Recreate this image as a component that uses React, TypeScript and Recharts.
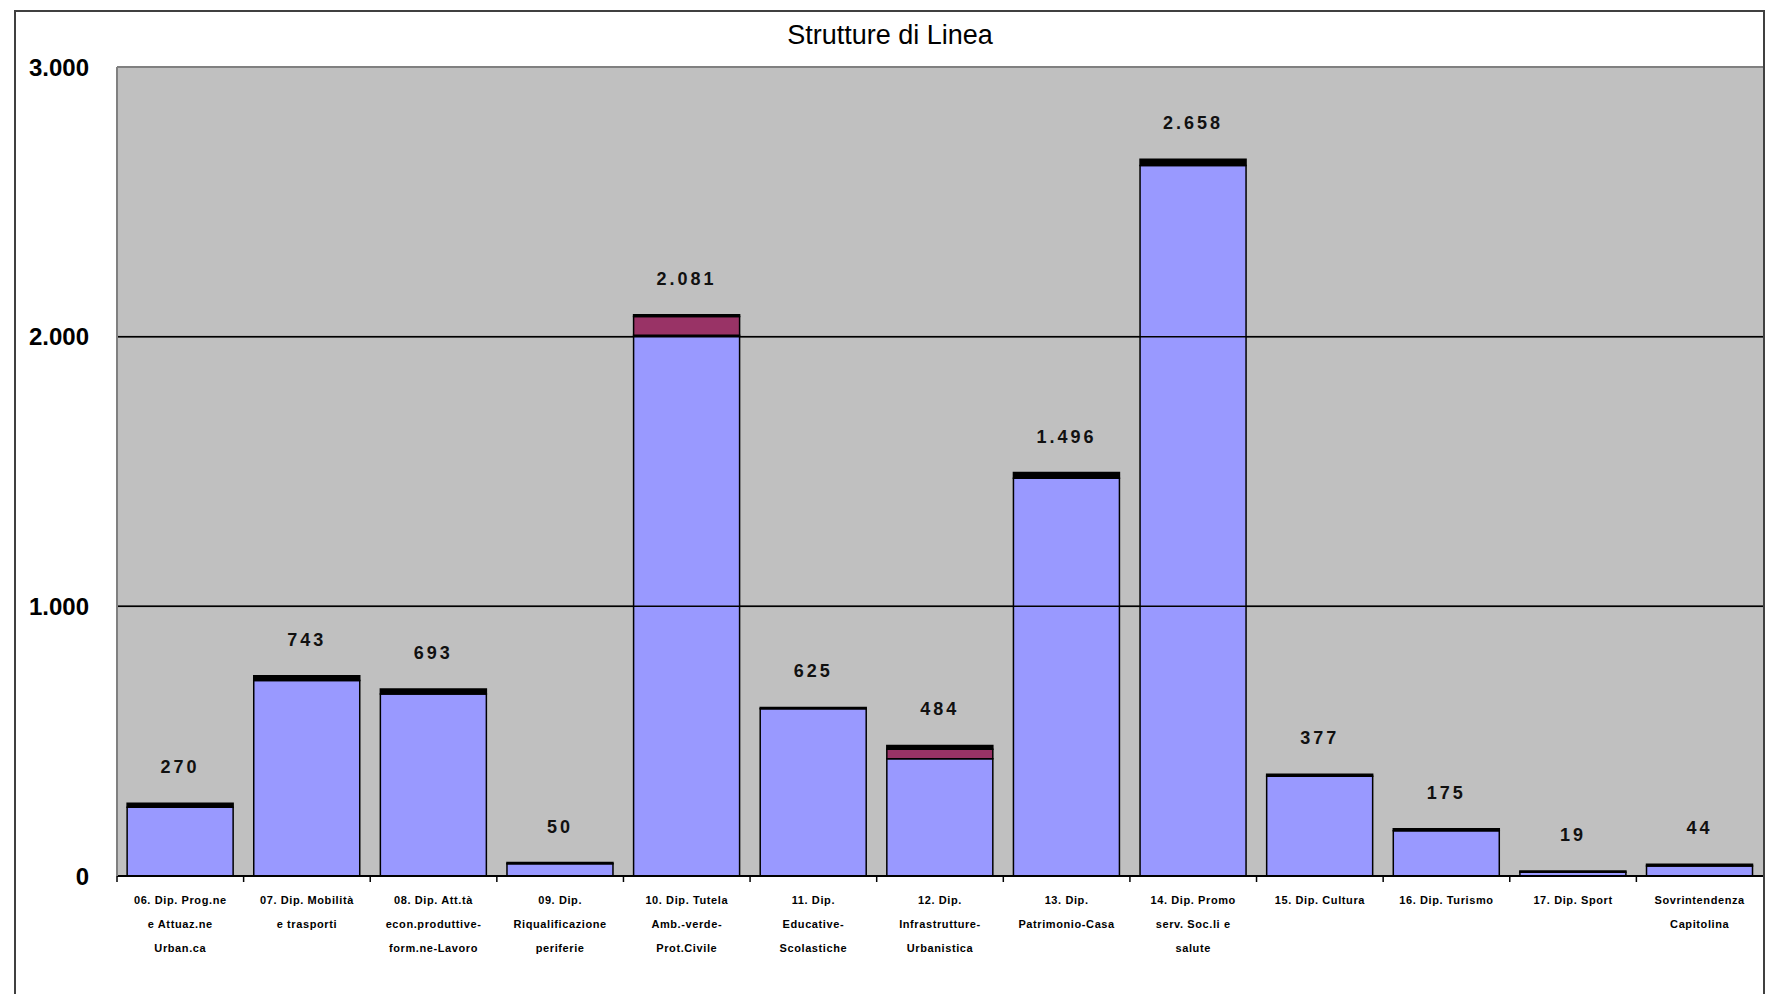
import React from "react";
import {
  BarChart,
  Bar,
  XAxis,
  YAxis,
  CartesianGrid,
  ReferenceLine,
  LabelList,
} from "recharts";

const categories = [
  "06. Dip. Prog.ne|e Attuaz.ne|Urban.ca",
  "07. Dip. Mobilità|e trasporti",
  "08. Dip. Att.tà|econ.produttive-|form.ne-Lavoro",
  "09. Dip.|Riqualificazione|periferie",
  "10. Dip. Tutela|Amb.-verde-|Prot.Civile",
  "11. Dip.|Educative-|Scolastiche",
  "12. Dip.|Infrastrutture-|Urbanistica",
  "13. Dip.|Patrimonio-Casa",
  "14. Dip. Promo|serv. Soc.li e|salute",
  "15. Dip. Cultura",
  "16. Dip. Turismo",
  "17. Dip. Sport",
  "Sovrintendenza|Capitolina",
];

// blue part, maroon part, black top part
const baseValues = [255, 725, 675, 45, 2005, 620, 435, 1475, 2635, 370, 168, 14, 37];
const extraValues = [0, 0, 0, 0, 70, 0, 35, 0, 0, 0, 0, 0, 0];
const topValues = [15, 18, 18, 5, 6, 5, 14, 21, 23, 7, 7, 5, 7];
const totals = [270, 743, 693, 50, 2081, 625, 484, 1496, 2658, 377, 175, 19, 44];

const yTicks = [0, 1000, 2000, 3000];

const data = categories.map((c, i) => ({
  name: c,
  base: baseValues[i],
  extra: extraValues[i],
  top: topValues[i],
  total: totals[i],
}));

const fmt = (v: number) => String(v).replace(/\B(?=(\d{3})+(?!\d))/g, ".");

const BAND = (1763 - 117) / categories.length;

function CategoryTick(props: any) {
  const { x, y, payload } = props;
  const lines = String(payload.value).split("|");
  return (
    <g>
      <line x1={x - BAND / 2} x2={x - BAND / 2} y1={y - 8} y2={y - 2} stroke="#000" strokeWidth={1.5} />
      {lines.map((l, i) => (
        <text
          key={i}
          x={x}
          y={y + 20 + i * 24}
          textAnchor="middle"
          fontSize={11}
          fontWeight="bold"
          letterSpacing={0.6}
          fontFamily="Liberation Sans, Arial, sans-serif"
          fill="#000"
        >
          {l}
        </text>
      ))}
    </g>
  );
}

function TotalLabel(props: any) {
  const { x, y, width, index } = props;
  return (
    <text
      x={x + width / 2}
      y={y - 30}
      textAnchor="middle"
      fontSize={18}
      fontWeight="bold"
      letterSpacing={3}
      fontFamily="Liberation Sans, Arial, sans-serif"
      fill="#111"
    >
      {fmt(totals[index])}
    </text>
  );
}

export default function App() {
  return (
    <div style={{ position: "absolute", left: 0, top: 0, width: 1765, height: 994, background: "#fff", overflow: "hidden" }}>
      <div
        style={{
          position: "absolute",
          left: 14,
          top: 10,
          width: 1747,
          height: 1010,
          border: "2px solid #404040",
        }}
      />
      <div
        style={{
          position: "absolute",
          left: 0,
          width: 1780,
          top: 20,
          textAlign: "center",
          fontFamily: "Liberation Sans, Arial, sans-serif",
          fontSize: 27,
          color: "#000",
        }}
      >
        Strutture di Linea
      </div>
      <div style={{ position: "absolute", left: 0, top: 0 }}>
        <BarChart
          width={1765}
          height={994}
          data={data}
          margin={{ top: 67, right: 2, left: 0, bottom: 0 }}
          barCategoryGap="8%"
        >
          <CartesianGrid vertical={false} stroke="#808080" strokeWidth={2} fill="#c0c0c0" />
          <XAxis
            dataKey="name"
            interval={0}
            height={118}
            axisLine={{ stroke: "#000", strokeWidth: 2 }}
            tickLine={false}
            tick={<CategoryTick />}
          />
          <YAxis
            width={117}
            domain={[0, 3000]}
            ticks={yTicks}
            tickFormatter={fmt}
            axisLine={{ stroke: "#808080", strokeWidth: 2 }}
            tickLine={false}
            tickMargin={22}
            tick={{ fill: "#000", fontSize: 24, fontWeight: "bold", fontFamily: "Liberation Sans, Arial, sans-serif" }}
          />
          <ReferenceLine y={1000} stroke="#000" strokeWidth={1.5} />
          <ReferenceLine y={2000} stroke="#000" strokeWidth={1.5} />
          <Bar dataKey="base" stackId="a" fill="#9999ff" stroke="#000" strokeWidth={1.5} isAnimationActive={false} />
          <Bar dataKey="extra" stackId="a" fill="#993366" stroke="#000" strokeWidth={1.5} isAnimationActive={false} />
          <Bar dataKey="top" stackId="a" fill="#000" stroke="#000" strokeWidth={1.5} isAnimationActive={false}>
            <LabelList dataKey="total" content={<TotalLabel />} />
          </Bar>
        </BarChart>
      </div>
    </div>
  );
}
